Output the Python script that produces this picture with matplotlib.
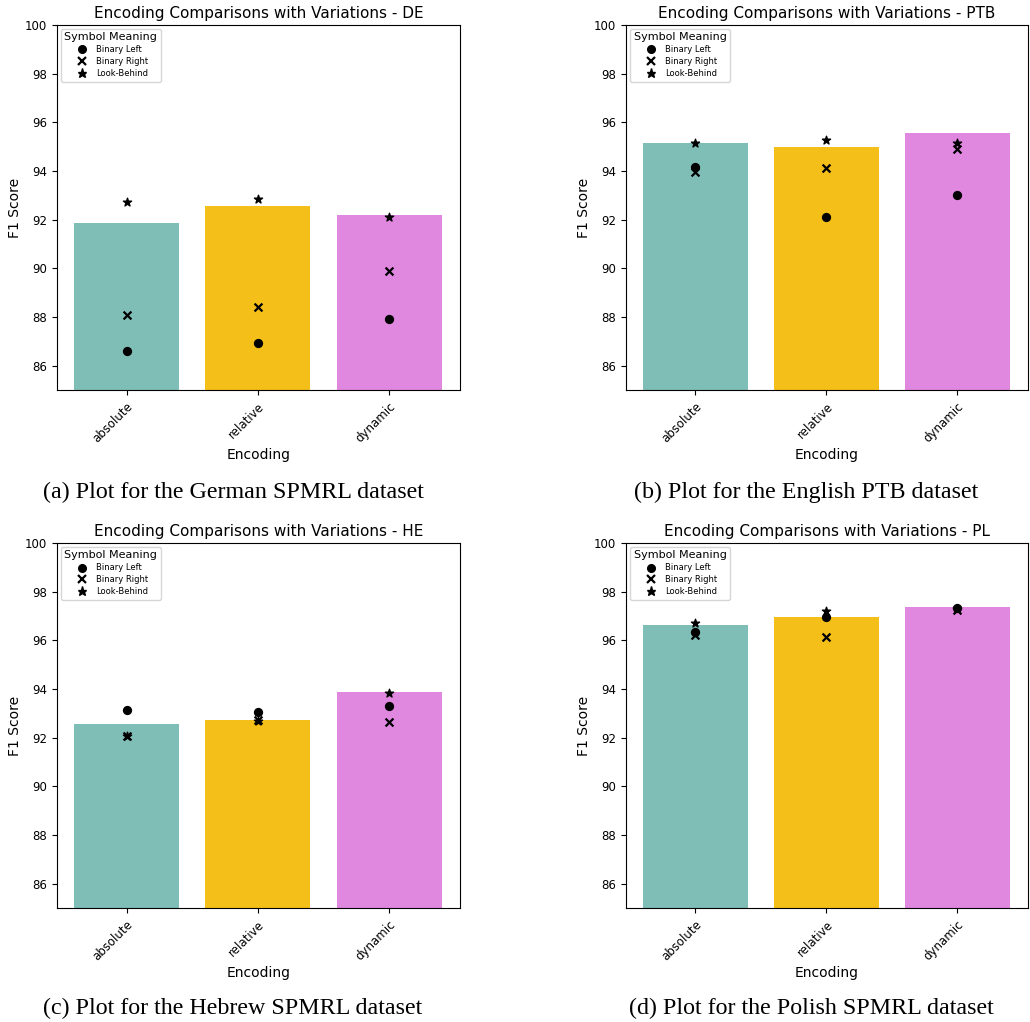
import matplotlib
matplotlib.use("Agg")
import matplotlib.pyplot as plt
from matplotlib.lines import Line2D

encodings = ["absolute", "relative", "dynamic"]
bar_colors = ["#7fbdb7", "#f4bf18", "#e087e0"]

# Bar heights (F1 score) per dataset
de_bars = [91.85, 92.56, 92.18]
ptb_bars = [95.14, 95.00, 95.55]
he_bars = [92.58, 92.74, 93.88]
pl_bars = [96.63, 96.95, 97.37]

# Variations per dataset: binary left, binary right, look-behind
de_left = [86.60, 86.92, 87.93]
de_right = [88.07, 88.42, 89.89]
de_behind = [92.71, 92.85, 92.10]

ptb_left = [94.15, 92.10, 93.01]
ptb_right = [93.97, 94.11, 94.89]
ptb_behind = [95.16, 95.29, 95.14]

he_left = [93.15, 93.07, 93.32]
he_right = [92.08, 92.74, 92.66]
he_behind = [92.05, 92.70, 93.84]

pl_left = [96.35, 96.97, 97.34]
pl_right = [96.23, 96.12, 97.24]
pl_behind = [96.72, 97.22, 97.28]

titles = ["DE", "PTB", "HE", "PL"]
captions = [
    "(a) Plot for the German SPMRL dataset",
    "(b) Plot for the English PTB dataset",
    "(c) Plot for the Hebrew SPMRL dataset",
    "(d) Plot for the Polish SPMRL dataset",
]

panels = [
    (de_bars, de_left, de_right, de_behind),
    (ptb_bars, ptb_left, ptb_right, ptb_behind),
    (he_bars, he_left, he_right, he_behind),
    (pl_bars, pl_left, pl_right, pl_behind),
]

W, H = 1030, 1022
fig = plt.figure(figsize=(W / 100, H / 100), dpi=100)

# axes boxes in pixels: left, top, right, bottom
boxes = [(57, 25, 460, 390), (626, 25, 1028, 390),
         (57, 543, 460, 908), (626, 543, 1028, 908)]
caption_pos = [(233, 492), (806, 492), (233, 1008), (811, 1008)]

for i, (bars, left, right, behind) in enumerate(panels):
    l, t, r, b = boxes[i]
    ax = fig.add_axes([l / W, 1 - b / H, (r - l) / W, (b - t) / H])
    x = range(len(encodings))
    ax.bar(x, bars, width=0.8, color=bar_colors)
    ax.scatter(x, left, marker="o", color="black", s=32, zorder=3)
    ax.scatter(x, right, marker="x", color="black", s=32, linewidths=1.6, zorder=3)
    ax.scatter(x, behind, marker="*", color="black", s=38, zorder=3)

    ax.set_ylim(85, 100)
    ax.set_xlim(-0.53, 2.54)
    ax.set_yticks([86, 88, 90, 92, 94, 96, 98, 100])
    ax.set_xticks(list(x))
    ax.set_xticklabels(encodings, rotation=45, ha="right", rotation_mode="anchor", fontsize=8.5)
    ax.tick_params(axis="y", labelsize=8.5)
    ax.set_title("Encoding Comparisons with Variations - " + titles[i], fontsize=11, pad=5)
    ax.set_ylabel("F1 Score", fontsize=10, labelpad=2)
    ax.set_xlabel("Encoding", fontsize=10, labelpad=2)

    handles = [
        Line2D([], [], marker="o", color="black", linestyle="none", markersize=5.5),
        Line2D([], [], marker="x", color="black", linestyle="none", markersize=5.5, markeredgewidth=1.6),
        Line2D([], [], marker="*", color="black", linestyle="none", markersize=6.5),
    ]
    ax.legend(handles, ["Binary Left", "Binary Right", "Look-Behind"],
              title="Symbol Meaning", loc="upper left", fontsize=6,
              title_fontsize=8, handletextpad=0.7, borderpad=0.4,
              labelspacing=0.35)

    cx, cy = caption_pos[i]
    fig.text(cx / W, 1 - cy / H, captions[i], ha="center", va="center",
             fontsize=17.3, family="Liberation Serif")

fig.savefig("out.png", dpi=100)
